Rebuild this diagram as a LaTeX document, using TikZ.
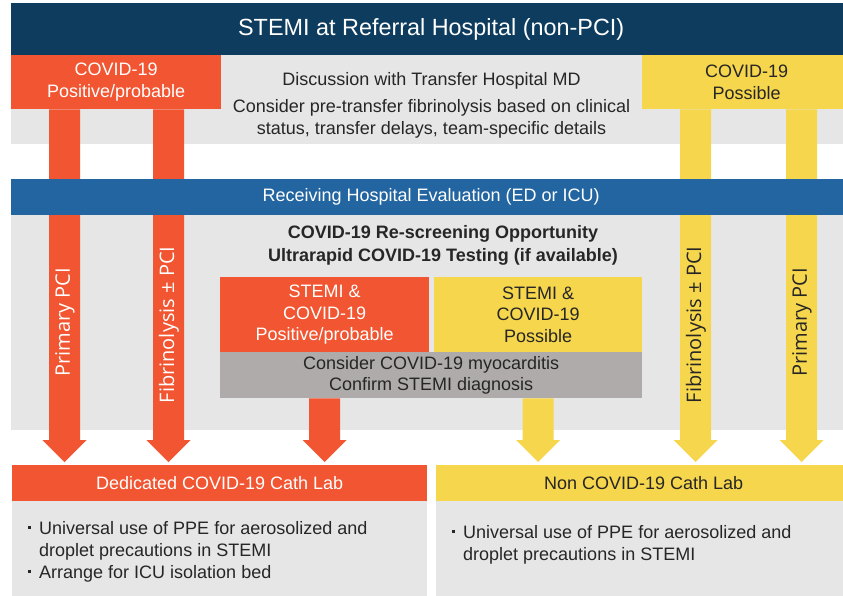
\documentclass[tikz,border=0pt]{standalone}
\usepackage{fontspec}
\setmainfont{Liberation Sans}
\newfontfamily\colfont{Open Sans}
\usetikzlibrary{calc}

\definecolor{navy}{HTML}{0E3C5E}
\definecolor{barblue}{HTML}{2265A1}
\definecolor{covorange}{HTML}{F15531}
\definecolor{covyellow}{HTML}{F6D64C}
\definecolor{bandgray}{HTML}{E6E6E6}
\definecolor{notegray}{HTML}{AFABAA}
\definecolor{ink}{HTML}{262626}

\tikzset{
  box/.style={rectangle, inner sep=0pt, anchor=north west, align=center,
    font=\fontsize{18}{21.5}\selectfont},
  posbox/.style={box, fill=covorange, text=white},
  possbox/.style={box, fill=covyellow, text=ink},
  coltext/.style={rotate=90, inner sep=0pt, font=\colfont\fontsize{20}{24}\selectfont},
  plain/.style={text=ink, inner sep=0pt, align=center, font=\fontsize{18}{22.5}\selectfont},
  care/.style={text=ink, inner sep=0pt, anchor=north west, align=left,
    font=\fontsize{18}{22}\selectfont},
}

% fat arrow from a point down to the box below
\newcommand{\fatarrow}[3]{%
  \coordinate (tip) at ($(#3)+(0,-3)$);
  \fill[#1] ($(#2)+(-15.5,0)$) -- ($(tip)+(-15.5,-22)$) -- ($(tip)+(-22,-22)$)
    -- (tip) -- ($(tip)+(22,-22)$) -- ($(tip)+(15.5,-22)$) -- ($(#2)+(15.5,0)$) -- cycle;
}
\newcommand{\itm}{\makebox[11pt][l]{\raisebox{5.5pt}{\rule{2.5pt}{2.5pt}}}}

\begin{document}
\begin{tikzpicture}[x=1pt, y=-1pt]
  \useasboundingbox (0,0) rectangle (843,596);

  \fill[bandgray] (11,55) rectangle (851,144);
  \fill[bandgray] (11,215) rectangle (851,430);
  \fill[bandgray] (12,501) rectangle (427,600);
  \fill[bandgray] (436,501) rectangle (851,600);

  \node[box, fill=navy, text=white, minimum width=840pt, minimum height=52pt,
    font=\fontsize{23.4}{28}\selectfont] (title) at (11,3) {STEMI at Referral Hospital (non-PCI)};

  \node[posbox, minimum width=210pt, minimum height=54pt] (posA) at (11,55) {COVID-19\\Positive/probable};
  \node[possbox, minimum width=209pt, minimum height=54pt] (possA) at (642,55) {COVID-19\\Possible};
  \node[plain] (discuss) at (431.5,105.5) {Discussion with Transfer Hospital MD\\[4pt]
    Consider pre-transfer fibrinolysis based on clinical\\status, transfer delays, team-specific details};

  \coordinate (c1) at (64.5,0);
  \coordinate (c2) at (168.5,0);
  \coordinate (c3) at (695.5,0);
  \coordinate (c4) at (801.5,0);
  \coordinate (c5) at (324.5,0);
  \coordinate (c6) at (538,0);

  \node[posbox, minimum width=415pt, minimum height=36pt] (labA) at (12,465) {Dedicated COVID-19 Cath Lab};
  \node[possbox, minimum width=415pt, minimum height=36pt] (labB) at (436,465) {Non COVID-19 Cath Lab};

  \fatarrow{covorange}{c1 |- posA.south}{c1 |- labA.north}
  \fatarrow{covorange}{c2 |- posA.south}{c2 |- labA.north}
  \fatarrow{covyellow}{c3 |- possA.south}{c3 |- labB.north}
  \fatarrow{covyellow}{c4 |- possA.south}{c4 |- labB.north}

  \node[box, fill=barblue, text=white, minimum width=840pt, minimum height=36pt] (recv) at (11,179)
    {Receiving Hospital Evaluation (ED or ICU)};

  \node[plain, font=\bfseries\fontsize{18}{23}\selectfont] (rescreen) at (443,245.5)
    {COVID-19 Re-screening Opportunity\\Ultrarapid COVID-19 Testing (if available)};

  \node[posbox, minimum width=209pt, minimum height=75pt] (posB) at (220,277) {STEMI \&\\COVID-19\\Positive/probable};
  \node[possbox, minimum width=208pt, minimum height=75pt] (possB) at (434,277) {STEMI \&\\COVID-19\\Possible};
  \node[box, fill=notegray, text=ink, minimum width=422pt, minimum height=46pt] (myo) at (220,352)
    {Consider COVID-19 myocarditis\\Confirm STEMI diagnosis};

  \fatarrow{covorange}{c5 |- myo.south}{c5 |- labA.north}
  \fatarrow{covyellow}{c6 |- myo.south}{c6 |- labB.north}

  \node[coltext, text=white] (primA) at (65,322.5) {Primary PCI};
  \node[coltext, text=white] (fibA) at (169,325) {Fibrinolysis ± PCI};
  \node[coltext, text=ink] (fibB) at (696,325) {Fibrinolysis ± PCI};
  \node[coltext, text=ink] (primB) at (802,322.5) {Primary PCI};

  \node[care] (careA) at (28,521) {\itm Universal use of PPE for aerosolized and\\
    \hspace*{11pt}droplet precautions in STEMI\\\itm Arrange for ICU isolation bed};
  \node[care] (careB) at (452,525) {\itm Universal use of PPE for aerosolized and\\
    \hspace*{11pt}droplet precautions in STEMI};
\end{tikzpicture}
\end{document}
